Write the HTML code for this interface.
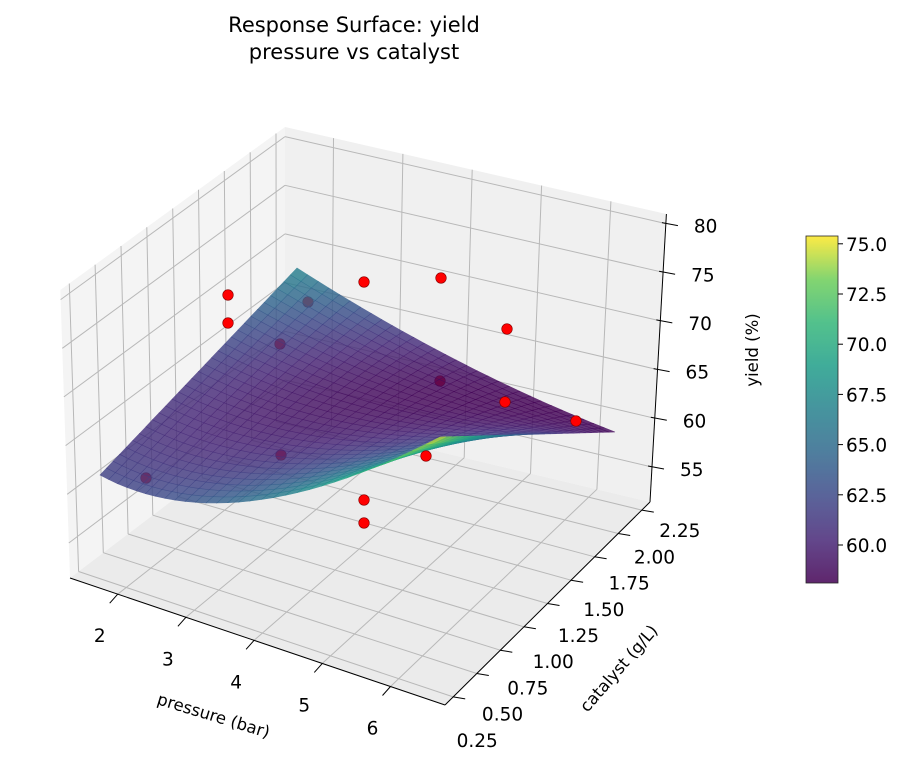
<!DOCTYPE html>
<html><head><meta charset="utf-8"><style>
body{margin:0;background:#fff;}
svg{display:block;font-family:"DejaVu Sans","Liberation Sans",sans-serif;}
</style></head><body>
<svg id="s" width="916" height="767" viewBox="0 0 916 767" xmlns="http://www.w3.org/2000/svg">
<defs>
<linearGradient id="cb" x1="0" y1="1" x2="0" y2="0">
<stop offset="0" stop-color="#440154"/><stop offset="0.125" stop-color="#482878"/><stop offset="0.25" stop-color="#3e4989"/><stop offset="0.375" stop-color="#31688e"/><stop offset="0.5" stop-color="#26828e"/><stop offset="0.625" stop-color="#1f9e89"/><stop offset="0.75" stop-color="#35b779"/><stop offset="0.875" stop-color="#6ece58"/><stop offset="1" stop-color="#fde725"/>
</linearGradient>
</defs>
<g id="g"></g>
<text x="354" y="32" font-size="21" text-anchor="middle">Response Surface: yield</text>
<text x="354" y="59" font-size="21" text-anchor="middle">pressure vs catalyst</text>
<rect x="806" y="236" width="32" height="347" fill="url(#cb)" opacity="0.85" stroke="#000" stroke-width="0.8"/>
<g font-size="18.5" id="cbt"></g>
</svg>
<script>
const g=document.getElementById('g');let h='';
const A=[70,578],B=[445,705],C=[650,502],D=[285,415];
function F(u,v,z){let x=(1-u)*(1-v)*A[0]+u*(1-v)*B[0]+u*v*C[0]+(1-u)*v*D[0];
const y=(1-u)*(1-v)*A[1]+u*(1-v)*B[1]+u*v*C[1]+(1-u)*v*D[1];x=x+(x-285)*0.045*z;return [x,y-288*z];}
const pu=P=>(P-1.3)/5.5, cv=c=>0.04+(c-0.25)/2*0.92, zz=z=>(z-51.4)*0.0338;
function L(p,q,st,w){h+=`<line x1="${p[0].toFixed(1)}" y1="${p[1].toFixed(1)}" x2="${q[0].toFixed(1)}" y2="${q[1].toFixed(1)}" stroke="${st}" stroke-width="${w}"/>`;}
function poly(pts,f,ex){h+=`<polygon points="${pts.map(p=>p[0].toFixed(1)+','+p[1].toFixed(1)).join(' ')}" fill="${f}" ${ex||''}/>`;}
poly([F(0,0,0),F(0,1,0),F(0,1,1),F(0,0,1)],'#f4f4f4');
poly([F(0,1,0),F(1,1,0),F(1,1,1),F(0,1,1)],'#f0f0f0');
poly([F(0,0,0),F(1,0,0),F(1,1,0),F(0,1,0)],'#ebebeb');
const gc='#b8b8b8';
for(const z of [55,60,65,70,75,80]){const t=zz(z);L(F(0,0,t),F(0,1,t),gc,1);L(F(0,1,t),F(1,1,t),gc,1);}
for(const P of [2,3,4,5,6]){const u=pu(P);L(F(u,0,0),F(u,1,0),gc,1);L(F(u,1,0),F(u,1,1),gc,1);}
for(const c of [0.25,0.5,0.75,1,1.25,1.5,1.75,2,2.25]){const v=cv(c);L(F(0,v,0),F(1,v,0),gc,1);L(F(0,v,0),F(0,v,1),gc,1);}
L(F(0,0,0),F(1,0,0),'#000',1);L(F(1,0,0),F(1,1,0),'#000',1);L(F(1,1,0),F(1,1,1),'#000',1);
let lab='';
for(const P of [2,3,4,5,6]){const u=pu(P);const p=F(u,0,0);L(p,[p[0]-8,p[1]+9],'#000',1);
lab+=`<text x="${p[0]-18}" y="${p[1]+48}" font-size="18.5" text-anchor="middle">${P}</text>`;}
for(const c of [0.25,0.5,0.75,1,1.25,1.5,1.75,2,2.25]){const v=cv(c);const p=F(1,v,0);L(p,[p[0]+12,p[1]+2],'#000',1);
const w=(c-0.25)/2;
lab+=`<text x="${p[0]+24+14*w}" y="${p[1]+50-23*w}" font-size="18.5" text-anchor="middle">${c.toFixed(2)}</text>`;}
for(const z of [55,60,65,70,75,80]){const p=F(1,1,zz(z));L([p[0]-4,p[1]-1],[p[0]+12,p[1]+2],'#000',1);
lab+=`<text x="${p[0]+28}" y="${p[1]+9}" font-size="18.5">${z}</text>`;}
lab+=`<text transform="translate(212,721) rotate(17)" font-size="16.5" text-anchor="middle">pressure (bar)</text>`;
lab+=`<text transform="translate(623,672) rotate(-49)" font-size="16.5" text-anchor="middle">catalyst (g/L)</text>`;
lab+=`<text transform="translate(758,350) rotate(-90)" font-size="16.5" text-anchor="middle">yield (%)</text>`;
const vs=[[68,1,84],[72,40,120],[62,73,137],[49,104,142],[38,130,142],[31,158,137],[53,183,121],[110,206,88],[253,231,37]];
function vir(t){t=Math.max(0,Math.min(1,t))*8;const i=Math.min(7,Math.floor(t)),f=t-i;const a=vs[i],b=vs[i+1];
return `rgb(${a.map((x,k)=>Math.round(x+(b[k]-x)*f)).join(',')})`;}
function dot(x,y){h+=`<circle cx="${x}" cy="${y}" r="5.3" fill="red" stroke="#800" stroke-width="0.6"/>`;}
[[308,302],[280,344],[281,455],[146,478],[440,381]].forEach(p=>dot(p[0],p[1]));
const S00=[100,475],S01=[297,268],S11=[615,432],S10=[440,437];
function SP(u,v){let x=(1-u)*(1-v)*S00[0]+u*(1-v)*S10[0]+u*v*S11[0]+(1-u)*v*S01[0];
let y=(1-u)*(1-v)*S00[1]+u*(1-v)*S10[1]+u*v*S11[1]+(1-u)*v*S01[1];
y+=45*4*u*(1-u)*Math.pow(1-v,1.5)+10*4*u*(1-u)*v; x-=20*4*u*(1-u)*(1-v);return [x,y];}
function Z(u,v){return (1-u)*(1-v)*62+u*(1-v)*75+u*v*58.5+(1-u)*v*67-13*(u*(1-u)+v*(1-v));}
const N=30,q=[];
for(let i=0;i<N;i++)for(let j=0;j<N;j++){const u0=i/N,u1=(i+1)/N,v0=j/N,v1=(j+1)/N;
q.push({d:(v0+v1)/2-(u0+u1)/2*0.3,p:[SP(u0,v0),SP(u1,v0),SP(u1,v1),SP(u0,v1)],z:Z((u0+u1)/2,(v0+v1)/2)});}
q.sort((a,b)=>b.d-a.d);
for(const k of q){const c=vir((k.z-58)/(75.3-58));poly(k.p,c,`stroke="${c}" stroke-width="0.6" opacity="0.82"`);}
[[228,295],[228,323],[364,282],[441,278],[507,329],[505,402],[576,421],[426,456],[364,500],[364,523]].forEach(p=>dot(p[0],p[1]));
g.innerHTML=h+lab;
let ct='';for(let i=0;i<7;i++){const val=60+2.5*i;const y=545-(val-60)*50.2/2.5;
ct+=`<line x1="838" y1="${y}" x2="843" y2="${y}" stroke="#000"/><text x="846" y="${y+7}">${val.toFixed(1)}</text>`;}
document.getElementById('cbt').innerHTML=ct;
</script>
</body></html>
